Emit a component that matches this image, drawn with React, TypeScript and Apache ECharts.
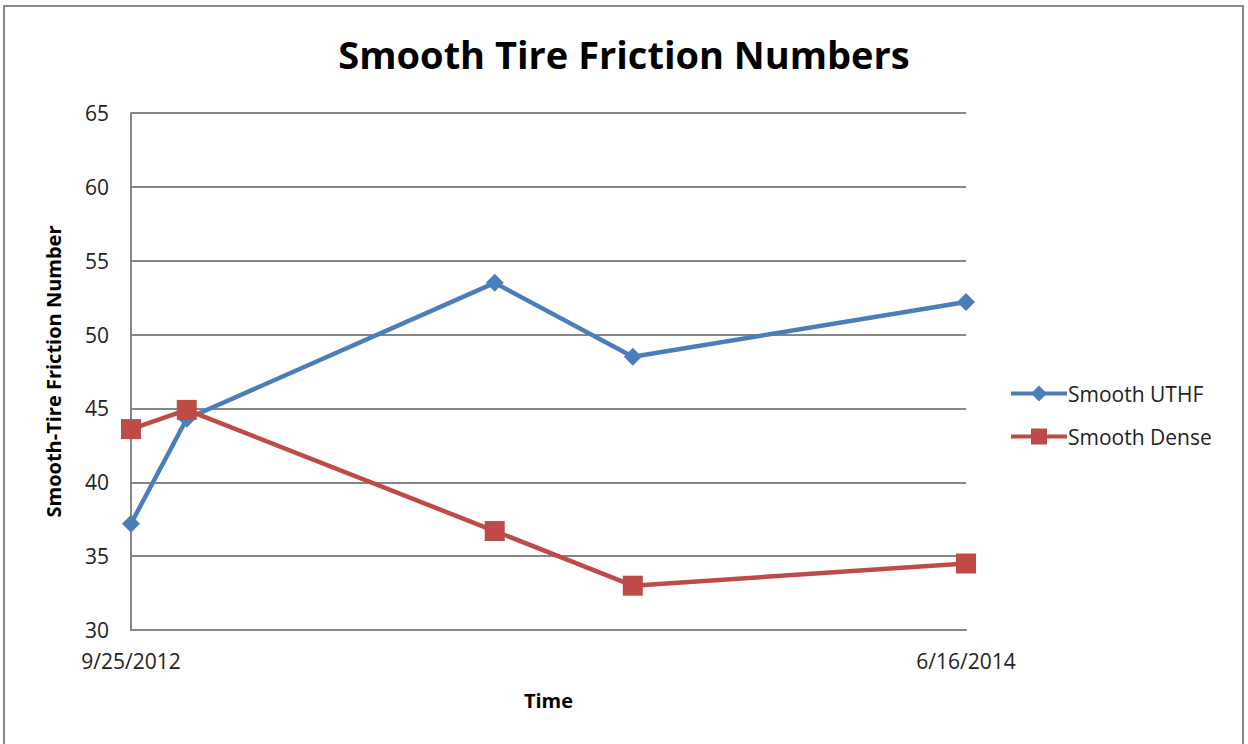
import React, { useEffect, useRef } from "react";
import * as echarts from "echarts";

const dates = ["2012-09-25", "2012-11-06", "2013-06-26", "2013-10-08", "2014-06-16"];
const uthf = [37.2, 44.3, 53.5, 48.5, 52.2];
const dense = [43.6, 44.9, 36.7, 33.0, 34.5];
const xTickDates = ["2012-09-25", "2014-06-16"];

const toTs = (s: string) => {
  const [y, m, d] = s.split("-").map(Number);
  return Date.UTC(y, m - 1, d);
};
const fmt = (v: number) => {
  const d = new Date(v);
  return `${d.getUTCMonth() + 1}/${d.getUTCDate()}/${d.getUTCFullYear()}`;
};

export default function App() {
  const ref = useRef<HTMLDivElement>(null);
  useEffect(() => {
    document.body.style.margin = "0";
    const chart = echarts.init(ref.current!, null, { renderer: "svg" });
    const ticks = xTickDates.map(toTs);
    const font = "'Open Sans', 'Noto Sans', sans-serif";
    chart.setOption({
      animation: false,
      backgroundColor: "#ffffff",
      textStyle: { fontFamily: font },
      title: {
        text: "Smooth Tire Friction Numbers",
        left: "center",
        top: 30,
        textStyle: { fontSize: 38, fontWeight: "bold", color: "#000", fontFamily: font },
      },
      graphic: [
        {
          type: "rect",
          shape: { x: 4, y: 6, width: 1239, height: 760 },
          style: { fill: "none", stroke: "#8a8a8a", lineWidth: 2 },
          silent: true,
        },
      ],
      grid: { left: 131, right: 282, top: 113, bottom: 114, containLabel: false },
      legend: {
        orient: "vertical",
        left: 1004,
        top: 378,
        itemGap: 22,
        itemWidth: 56,
        itemHeight: 20,
        lineStyle: { width: 4 },
        textStyle: { fontSize: 21, color: "#222", fontFamily: font, padding: [0, 0, 0, -4] },
        data: ["Smooth UTHF", "Smooth Dense"],
      },
      xAxis: {
        type: "value",
        min: ticks[0],
        max: ticks[1],
        name: "Time",
        nameLocation: "middle",
        nameGap: 60,
        nameTextStyle: { fontSize: 20, fontWeight: "bold", color: "#000" },
        axisLine: { show: true, lineStyle: { color: "#868686", width: 2 } },
        axisTick: { show: false },
        splitLine: { show: false },
        axisLabel: {
          customValues: ticks,
          formatter: (v: number) => fmt(v),
          fontSize: 21,
          color: "#222",
          margin: 20,
        },
      },
      yAxis: {
        type: "value",
        min: 30,
        max: 65,
        interval: 5,
        name: "Smooth-Tire Friction Number",
        nameLocation: "middle",
        nameGap: 68,
        nameTextStyle: { fontSize: 20, fontWeight: "bold", color: "#000" },
        axisLine: { show: true, lineStyle: { color: "#868686", width: 2 } },
        axisTick: { show: false },
        splitLine: { lineStyle: { color: "#868686", width: 2 } },
        axisLabel: { fontSize: 21, color: "#222", margin: 22 },
      },
      series: [
        {
          name: "Smooth UTHF",
          type: "line",
          data: dates.map((d, i) => [toTs(d), uthf[i]]),
          symbol: "diamond",
          symbolSize: 18,
          lineStyle: { color: "#4A7EBB", width: 4.5 },
          itemStyle: { color: "#4A7EBB" },
        },
        {
          name: "Smooth Dense",
          type: "line",
          data: dates.map((d, i) => [toTs(d), dense[i]]),
          symbol: "rect",
          symbolSize: 20,
          lineStyle: { color: "#BE4B48", width: 4.5 },
          itemStyle: { color: "#BE4B48" },
        },
      ],
    });
    return () => chart.dispose();
  }, []);
  return <div ref={ref} style={{ width: 1248, height: 744 }} />;
}
